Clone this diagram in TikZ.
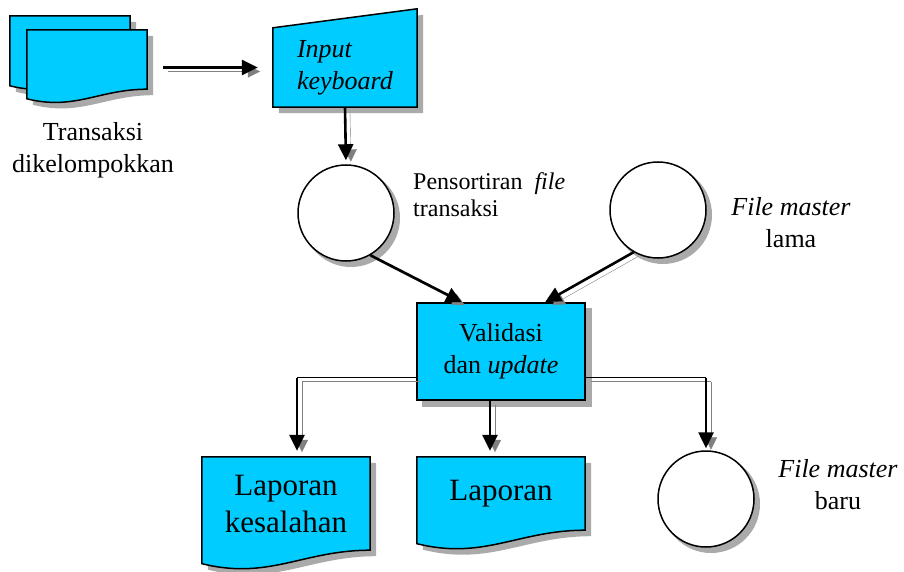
\documentclass[tikz,border=0pt]{standalone}
\usepackage{fontspec}
\setmainfont{Liberation Serif}
\usepackage{xcolor}
\usepackage{tikz}
\definecolor{skyblue}{RGB}{0,204,255}
\definecolor{arrowgray}{RGB}{128,128,128}
\definecolor{shadowgray}{RGB}{170,170,170}
\usetikzlibrary{shapes.geometric, arrows.meta, backgrounds}

\tikzset{
	boxline/.style={draw, line width=1.5pt, fill=skyblue},
	doc/.style={rectangle, minimum width=168pt, inner sep=0pt},
	state/.style={circle, draw, line width=1.5pt, fill=white, minimum size=96pt},
	bigtext/.style={font=\fontsize{26}{32}\selectfont, align=center},
	flow/.style={line width=2.6pt, -{Triangle[length=16pt, width=15pt]}, preaction={draw=arrowgray, transform canvas={xshift=5pt, yshift=-4pt}}},
	branch/.style={line width=1.3pt, preaction={draw=arrowgray, transform canvas={xshift=5pt, yshift=-4pt}}}
}

\newcommand{\docshape}[2]{%
	\fill[shadowgray] ([shift={(6,-6)}]#1.north west) -- ([shift={(6,-6)}]#1.north east) -- ([shift={(6,-6)}]#1.south east)
		.. controls +({-0.4*#2},0) and +({0.4*#2},{-0.1*#2}) .. ([shift={(6,{-6-0.08*#2})}]#1.south west) -- cycle;
	\draw[boxline] (#1.north west) -- (#1.north east) -- (#1.south east)
		.. controls +({-0.4*#2},0) and +({0.4*#2},{-0.1*#2}) .. ([yshift={-0.08*#2}]#1.south west) -- cycle;}

\newcommand{\roundshadow}[1]{\fill[shadowgray] ([shift={(5,-5)}]#1.center) circle (49pt);}

\begin{document}
\begin{tikzpicture}[x=1pt, y=1pt]
	\useasboundingbox (0,0) rectangle (904,571);

	\node[doc, minimum width=120pt, minimum height=60pt] (back) at (70,525) {};
	
	\node[doc, minimum width=120pt, minimum height=59pt] (trans) at (87,511.5) {};
	
	\node[bigtext] (translabel) at (93,421) {Transaksi\\dikelompokkan};
	
	\node[rectangle, minimum width=144pt, minimum height=79pt, bigtext, align=left] (kbd) at (345,503.5) {\textit{Input}\\\textit{keyboard}};
	
	\node[state] (sort) at (346,358) {};
	
	\node[font=\fontsize{24}{27}\selectfont, align=left, anchor=west, inner sep=0pt] (sortlabel) at (413,376.5) {Pensortiran~~\textit{file}\\transaksi};
	
	\node[state] (old) at (658,361) {};
	
	\node[bigtext] (oldlabel) at (791,348) {\textit{File master}\\lama};
	
	\node[rectangle, boxline, minimum width=168pt, minimum height=97pt, bigtext] (val) at (501,219.5) {Validasi\\dan \textit{update}};
	
	\node[doc, minimum height=93pt, font=\fontsize{31}{37}\selectfont, align=center] (kes) at (286,67.5) {Laporan\\kesalahan};
	
	\node[doc, minimum height=73pt, font=\fontsize{31}{37}\selectfont] (lap) at (501,77.5) {Laporan};
	
	\node[state] (new) at (706,72) {};
	
	\node[bigtext] (newlabel) at (838,86) {\textit{File master}\\baru};
	
	\begin{scope}[on background layer]
		\docshape{back}{120}
		\docshape{trans}{120}
		\fill[shadowgray] ([shift={(6,-6)}]kbd.south west) -- ([shift={(6,-6)}]kbd.south east) -- ([shift={(6,13)}]kbd.north east) -- ([shift={(6,-6)}]kbd.north west) -- cycle;
		\draw[boxline] (kbd.south west) -- (kbd.south east) -- ([yshift=19pt]kbd.north east) -- (kbd.north west) -- cycle;
		\roundshadow{sort}
		\roundshadow{old}
		\roundshadow{new}
		\fill[shadowgray] ([shift={(6,-6)}]val.south west) rectangle ([shift={(6,-6)}]val.north east);
		\docshape{kes}{168}
		\docshape{lap}{168}
	\end{scope}
	
	\coordinate (leftturn) at ([xshift=11pt, yshift=-26pt]kes.north |- val.west);
	
	\coordinate (rightturn) at ([yshift=-26pt]new.north |- val.east);
	
	\draw[flow, shorten >=15pt] ([xshift=16pt]trans.east |- kbd.west) -- (kbd.west);
	
	\draw[flow, shorten >=4pt] (kbd.south) -- (sort.north);
	
	\draw[flow] (sort.-60) -- ([xshift=-39pt]val.north);
	
	\draw[flow] (old.-120) -- ([xshift=44pt]val.north);
	
	\draw[branch] ([yshift=-26pt]val.west) -- (leftturn);
	
	\draw[flow, shorten >=6pt] (leftturn) -- (leftturn |- kes.north);
	
	\draw[flow, shorten >=6pt] ([xshift=-11pt]val.south) -- ([xshift=-11pt]lap.north);
	
	\draw[branch] ([yshift=-26pt]val.east) -- (rightturn);
	
	\draw[flow, shorten >=2pt] (rightturn) -- (new.north);
\end{tikzpicture}
\end{document}
